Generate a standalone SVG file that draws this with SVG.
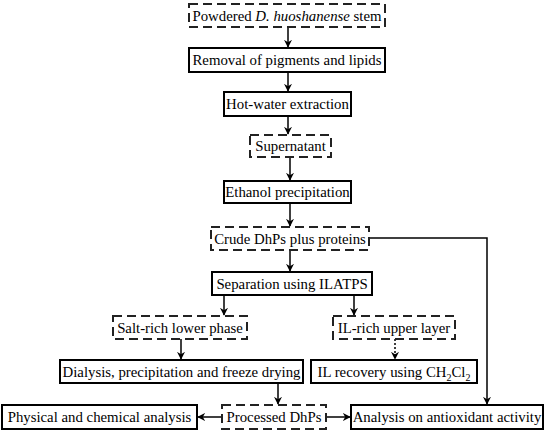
<svg xmlns="http://www.w3.org/2000/svg" width="550" height="434" viewBox="0 0 550 434">
<defs>
<marker id="ah" viewBox="0 0 10 10" refX="9" refY="5" markerWidth="8" markerHeight="8" markerUnits="userSpaceOnUse" orient="auto">
<path d="M0,0 L10,5 L0,10 L3,5 Z" fill="#000"/>
</marker>
<style>
.b{fill:#fff;stroke:#000;stroke-width:2}
.d{fill:#fff;stroke:#222;stroke-width:2;stroke-dasharray:9 5}
.t{font-family:"Liberation Serif","Times New Roman",serif;font-size:14.8px;fill:#000;text-anchor:middle}
.c{fill:none;stroke:#000;stroke-width:1.5}
</style>
</defs>
<rect width="550" height="434" fill="#fff"/>
<g id="connectors">
<path class="c" d="M288,27 V47" marker-end="url(#ah)"/>
<path class="c" d="M288,72 V91" marker-end="url(#ah)"/>
<path class="c" d="M288,116 V134" marker-end="url(#ah)"/>
<path class="c" d="M290,157 V180" marker-end="url(#ah)"/>
<path class="c" d="M290,203 V226" marker-end="url(#ah)"/>
<path class="c" d="M290,250 V271" marker-end="url(#ah)"/>
<path class="c" d="M369,238 H487 V404" marker-end="url(#ah)"/>
<path class="c" d="M224,295 V315" marker-end="url(#ah)"/>
<path class="c" d="M354,295 V315" marker-end="url(#ah)"/>
<path class="c" d="M181,339 V359" marker-end="url(#ah)"/>
<path class="c" d="M395,339 V359" stroke-dasharray="2 2" marker-end="url(#ah)"/>
<path class="c" d="M278,383 V404" marker-end="url(#ah)"/>
<path class="c" d="M222,417 H198" marker-end="url(#ah)"/>
<path class="c" d="M326,417 H350" marker-end="url(#ah)"/>
</g>
<g id="n1"><rect class="d" x="189" y="4" width="196" height="23"/><text class="t" x="287" y="21">Powdered <tspan font-style="italic">D. huoshanense</tspan> stem</text></g>
<g id="n2"><rect class="b" x="189" y="48" width="196" height="24"/><text class="t" x="287" y="65">Removal of pigments and lipids</text></g>
<g id="n3"><rect class="b" x="224" y="92" width="127" height="24"/><text class="t" x="287.5" y="109">Hot-water extraction</text></g>
<g id="n4"><rect class="d" x="250" y="135" width="81" height="22"/><text class="t" x="290.5" y="151">Supernatant</text></g>
<g id="n5"><rect class="b" x="224" y="181" width="127" height="22"/><text class="t" x="287.5" y="197">Ethanol precipitation</text></g>
<g id="n6"><rect class="d" x="211" y="227" width="158" height="23"/><text class="t" x="290" y="244">Crude DhPs plus proteins</text></g>
<g id="n7"><rect class="b" x="212" y="272" width="160" height="23"/><text class="t" x="292" y="289">Separation using ILATPS</text></g>
<g id="n8"><rect class="d" x="113" y="316" width="134" height="23"/><text class="t" x="180" y="333">Salt-rich lower phase</text></g>
<g id="n9"><rect class="d" x="333" y="316" width="122" height="23"/><text class="t" x="394" y="333">IL-rich upper layer</text></g>
<g id="n10"><rect class="b" x="60" y="360" width="243" height="23"/><text class="t" x="181.5" y="377">Dialysis, precipitation and freeze drying</text></g>
<g id="n11"><rect class="b" x="311" y="360" width="166" height="23"/><text class="t" x="394" y="377">IL recovery using CH<tspan font-size="10px" dy="4">2</tspan><tspan dy="-4">Cl</tspan><tspan font-size="10px" dy="4">2</tspan></text></g>
<g id="n12"><rect class="b" x="2" y="405" width="195" height="24"/><text class="t" x="99.5" y="422">Physical and chemical analysis</text></g>
<g id="n13"><rect class="d" x="222" y="405" width="104" height="24"/><text class="t" x="274" y="422">Processed DhPs</text></g>
<g id="n14"><rect class="b" x="351" y="405" width="192" height="24"/><text class="t" x="447" y="422">Analysis on antioxidant activity</text></g>
</svg>
